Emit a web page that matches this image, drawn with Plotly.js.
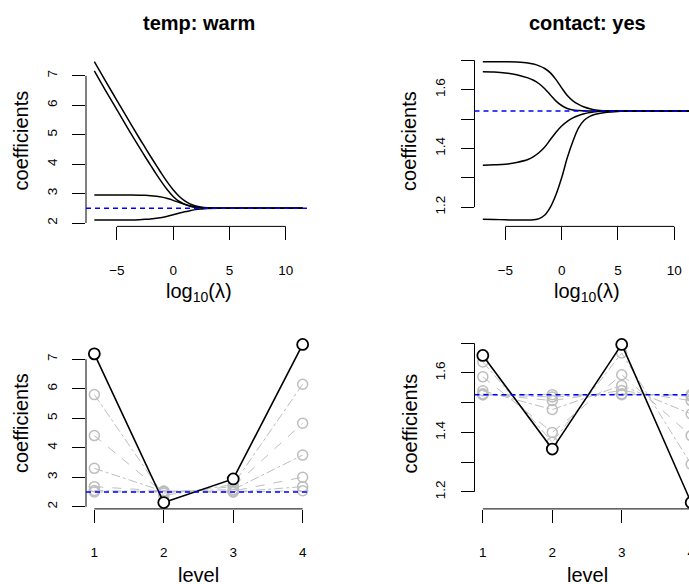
<!DOCTYPE html>
<html>
<head>
<meta charset="utf-8">
<script src="https://cdn.plot.ly/plotly-3.0.1.min.js"></script>
<style>
html,body{margin:0;padding:0;background:#fff;overflow:hidden;}
#wrap{width:689px;height:584px;overflow:hidden;position:relative;}
#chart{width:778px;height:584px;}
</style>
</head>
<body>
<div id="wrap"><div id="chart"></div></div>
<script>
// ---------------- DATA ----------------
const panelTitles = ["temp: warm", "contact: yes"];
const yAxisTitle = "coefficients";
const xTitleTop = "log<sub>10</sub>(λ)";
const xTitleBottom = "level";

// log10(lambda) grid used for the shrinkage paths
const logLambda = [-7, -6, -5, -4, -3, -2.5, -2, -1.5, -1, -0.5, 0, 0.5, 1, 1.5, 2, 2.5, 3, 4, 5, 6, 11.5];

// temp: warm  – coefficient paths (levels 1..4)
const tempPath1 = [7.17, 6.50, 5.85, 5.20, 4.57, 4.26, 3.96, 3.66, 3.38, 3.12, 2.90, 2.74, 2.64, 2.57, 2.53, 2.515, 2.505, 2.50, 2.50, 2.50, 2.50];
const tempPath2 = [2.10, 2.10, 2.10, 2.105, 2.115, 2.125, 2.14, 2.165, 2.19, 2.23, 2.28, 2.33, 2.38, 2.42, 2.455, 2.475, 2.49, 2.50, 2.50, 2.50, 2.50];
const tempPath3 = [2.95, 2.95, 2.95, 2.95, 2.945, 2.94, 2.93, 2.91, 2.88, 2.83, 2.77, 2.70, 2.64, 2.59, 2.55, 2.53, 2.515, 2.50, 2.50, 2.50, 2.50];
const tempPath4 = [7.48, 6.82, 6.17, 5.52, 4.88, 4.57, 4.26, 3.96, 3.66, 3.38, 3.13, 2.92, 2.76, 2.65, 2.58, 2.54, 2.52, 2.505, 2.50, 2.50, 2.50];
const tempMean = 2.5;

// contact: yes – coefficient paths (levels 1..4)
const contactPath1 = [1.661, 1.660, 1.657, 1.651, 1.640, 1.632, 1.620, 1.603, 1.582, 1.561, 1.546, 1.536, 1.531, 1.529, 1.528, 1.527, 1.527, 1.527, 1.527, 1.527, 1.527];
const contactPath2 = [1.343, 1.344, 1.346, 1.352, 1.362, 1.372, 1.386, 1.405, 1.430, 1.455, 1.476, 1.492, 1.504, 1.512, 1.518, 1.522, 1.525, 1.527, 1.527, 1.527, 1.527];
const contactPath3 = [1.695, 1.695, 1.695, 1.694, 1.691, 1.687, 1.681, 1.672, 1.657, 1.634, 1.606, 1.580, 1.562, 1.550, 1.541, 1.535, 1.531, 1.528, 1.527, 1.527, 1.527];
const contactPath4 = [1.159, 1.158, 1.157, 1.156, 1.156, 1.157, 1.161, 1.173, 1.200, 1.243, 1.300, 1.368, 1.424, 1.470, 1.496, 1.509, 1.516, 1.523, 1.526, 1.527, 1.527];
const contactMean = 1.527;

// level profiles
const levels = [1, 2, 3, 4];
const tempFit = [7.18, 2.14, 2.94, 7.50];
const tempShrunk1 = [5.80, 2.38, 2.75, 6.15];
const tempShrunk2 = [4.41, 2.46, 2.68, 4.83];
const tempShrunk3 = [3.30, 2.52, 2.58, 3.75];
const tempShrunk4 = [2.68, 2.53, 2.53, 3.00];
const tempShrunk5 = [2.55, 2.51, 2.50, 2.68];
const tempShrunk6 = [2.50, 2.50, 2.50, 2.54];

const contactFit = [1.659, 1.344, 1.696, 1.164];
const contactShrunk1 = [1.637, 1.367, 1.667, 1.293];
const contactShrunk2 = [1.587, 1.400, 1.594, 1.389];
const contactShrunk3 = [1.540, 1.477, 1.558, 1.462];
const contactShrunk4 = [1.530, 1.507, 1.541, 1.507];
const contactShrunk5 = [1.527, 1.519, 1.530, 1.522];
const contactShrunk6 = [1.527, 1.527, 1.527, 1.527];

// ticks
const topXTickVals = [-5, 0, 5, 10];
const topXTickText = ["\u22125", "0", "5", "10"];
const botXTickVals = [1, 2, 3, 4];
const botXTickText = ["1", "2", "3", "4"];
const tempYTickVals = [2, 3, 4, 5, 6, 7];
const tempYTickText = ["2", "3", "4", "5", "6", "7"];
const contactYTickVals = [1.2, 1.3, 1.4, 1.5, 1.6, 1.7];
const contactYTickText = ["1.2", "", "1.4", "", "1.6", ""];

// ---------------- LAYOUT HELPERS ----------------
const W = 778, H = 584;       // full figure; the window shows its left 689 px
const FONT = '"Liberation Sans", Arial, Helvetica, sans-serif';
const regionW = 225;          // plot-region width in px (R panel)
const leftCol = 86, rightCol = 474.5;
const topRow = [55.4, 226.4], botRow = [338.1, 508.9];

function rRange(arrs) {       // R style: data range extended by 4%
  let lo = Infinity, hi = -Infinity;
  arrs.forEach(a => a.forEach(v => { if (v < lo) lo = v; if (v > hi) hi = v; }));
  const d = (hi - lo) * 0.04;
  return [lo - d, hi + d];
}
function xDom(left) { return [left / W, (left + regionW) / W]; }
function yDom(row) { return [1 - row[1] / H, 1 - row[0] / H]; }
function toPaper(v, range, dom) {
  return dom[0] + (v - range[0]) / (range[1] - range[0]) * (dom[1] - dom[0]);
}

const xTopFull = rRange([logLambda]);
const xBotFull = rRange([levels]);
const yTemp1 = rRange([tempPath1, tempPath2, tempPath3, tempPath4]);
const yCont2 = rRange([contactPath1, contactPath2, contactPath3, contactPath4]);
const yTemp3 = rRange([tempFit, tempShrunk1, tempShrunk2, tempShrunk3, tempShrunk4, tempShrunk5, tempShrunk6]);
const yCont4 = rRange([contactFit, contactShrunk1, contactShrunk2, contactShrunk3, contactShrunk4, contactShrunk5, contactShrunk6]);

const panels = [
  {xa: 'x',  ya: 'y',  left: leftCol,  row: topRow, xr: xTopFull, yr: yTemp1, xt: [topXTickVals, topXTickText], yt: [tempYTickVals, tempYTickText], mean: tempMean},
  {xa: 'x2', ya: 'y2', left: rightCol, row: topRow, xr: xTopFull, yr: yCont2, xt: [topXTickVals, topXTickText], yt: [contactYTickVals, contactYTickText], mean: contactMean},
  {xa: 'x3', ya: 'y3', left: leftCol,  row: botRow, xr: xBotFull, yr: yTemp3, xt: [botXTickVals, botXTickText], yt: [tempYTickVals, tempYTickText], mean: tempMean},
  {xa: 'x4', ya: 'y4', left: rightCol, row: botRow, xr: xBotFull, yr: yCont4, xt: [botXTickVals, botXTickText], yt: [contactYTickVals, contactYTickText], mean: contactMean}
];

// ---------------- TRACES ----------------
const traces = [];
function pathTrace(y, p) {
  return {x: logLambda, y: y, xaxis: p.xa, yaxis: p.ya, type: 'scatter', mode: 'lines',
          line: {color: '#000', width: 1.5, shape: 'spline', smoothing: 1}, hoverinfo: 'skip'};
}
[tempPath1, tempPath2, tempPath3, tempPath4].forEach(s => traces.push(pathTrace(s, panels[0])));
[contactPath1, contactPath2, contactPath3, contactPath4].forEach(s => traces.push(pathTrace(s, panels[1])));

const grayDash = ['dashdot', 'dash', 'dashdot', 'dash', 'dashdot', 'dash'];
function grayTrace(y, p, i) {
  return {x: levels, y: y, xaxis: p.xa, yaxis: p.ya, type: 'scatter', mode: 'lines+markers', cliponaxis: false,
          line: {color: '#BEBEBE', width: 1, dash: grayDash[i]},
          marker: {symbol: 'circle-open', size: 10, color: '#BEBEBE', line: {width: 1.5, color: '#BEBEBE'}},
          hoverinfo: 'skip'};
}
function fitTrace(y, p) {
  return {x: levels, y: y, xaxis: p.xa, yaxis: p.ya, type: 'scatter', mode: 'lines+markers', cliponaxis: false,
          line: {color: '#000', width: 1.6},
          marker: {symbol: 'circle', size: 11, color: '#fff', line: {width: 1.8, color: '#000'}},
          hoverinfo: 'skip'};
}
[tempShrunk1, tempShrunk2, tempShrunk3, tempShrunk4, tempShrunk5, tempShrunk6].forEach((s, i) => traces.push(grayTrace(s, panels[2], i)));
traces.push(fitTrace(tempFit, panels[2]));
[contactShrunk1, contactShrunk2, contactShrunk3, contactShrunk4, contactShrunk5, contactShrunk6].forEach((s, i) => traces.push(grayTrace(s, panels[3], i)));
traces.push(fitTrace(contactFit, panels[3]));

// ---------------- AXES, SHAPES, ANNOTATIONS ----------------
const layout = {
  width: W, height: H, margin: {l: 0, r: 0, t: 0, b: 0},
  paper_bgcolor: '#fff', plot_bgcolor: 'rgba(0,0,0,0)',
  showlegend: false, font: {family: FONT, size: 13, color: '#000'},
  shapes: [], annotations: []
};

panels.forEach((p, i) => {
  const n = i === 0 ? '' : String(i + 1);
  const xd = xDom(p.left), yd = yDom(p.row);
  layout['xaxis' + n] = {
    domain: xd, range: p.xr, anchor: 'y' + n, showgrid: false, zeroline: false, showline: false,
    ticks: 'outside', ticklen: 13, tickwidth: 1, tickcolor: '#000',
    tickmode: 'array', tickvals: p.xt[0], ticktext: p.xt[1], ticklabelstandoff: 18,
    tickfont: {family: FONT, size: 13.5, color: '#000'}, fixedrange: true
  };
  layout['yaxis' + n] = {
    domain: yd, range: p.yr, anchor: 'x' + n, showgrid: false, zeroline: false, showline: false,
    ticks: 'outside', ticklen: 13, tickwidth: 1, tickcolor: '#000', tickangle: -90,
    tickmode: 'array', tickvals: p.yt[0], ticktext: p.yt[1], ticklabelstandoff: 10,
    tickfont: {family: FONT, size: 13.5, color: '#000'}, fixedrange: true
  };
  // R style axis lines spanning first..last tick
  const xt = p.xt[0], yt = p.yt[0];
  layout.shapes.push({type: 'line', xref: 'paper', yref: 'paper',
    x0: toPaper(xt[0], p.xr, xd), x1: toPaper(xt[xt.length - 1], p.xr, xd), y0: yd[0], y1: yd[0],
    line: {color: '#000', width: 1}});
  layout.shapes.push({type: 'line', xref: 'paper', yref: 'paper',
    x0: xd[0], x1: xd[0], y0: toPaper(yt[0], p.yr, yd), y1: toPaper(yt[yt.length - 1], p.yr, yd),
    line: {color: '#000', width: 1}});
  // mean line (abline)
  const ym = toPaper(p.mean, p.yr, yd);
  layout.shapes.push({type: 'line', xref: 'paper', yref: 'paper', x0: xd[0], x1: xd[1], y0: ym, y1: ym,
    line: {color: '#0000FF', width: 1.5, dash: '5px,4px'}});
  // y axis title
  layout.annotations.push({text: yAxisTitle, xref: 'paper', yref: 'paper', textangle: -90,
    x: (p.left - 65.5) / W, y: (yd[0] + yd[1]) / 2, xanchor: 'center', yanchor: 'middle', showarrow: false,
    font: {family: FONT, size: 20, color: '#000'}});
  // x axis title
  const cx = (p.left + regionW / 2) / W;
  const isTop = i < 2;
  layout.annotations.push({text: isTop ? xTitleTop : xTitleBottom, xref: 'paper', yref: 'paper',
    x: cx, y: 1 - (p.row[1] + 66) / H, xanchor: 'center', yanchor: 'middle', showarrow: false,
    font: {family: FONT, size: 20, color: '#000'}});
  if (isTop) {
    layout.annotations.push({text: '<b>' + panelTitles[i] + '</b>', xref: 'paper', yref: 'paper',
      x: cx, y: 1 - 22.5 / H, xanchor: 'center', yanchor: 'middle', showarrow: false,
      font: {family: FONT, size: 20, color: '#000'}});
  }
});

Plotly.newPlot('chart', traces, layout, {staticPlot: true, displayModeBar: false});
</script>
</body>
</html>
